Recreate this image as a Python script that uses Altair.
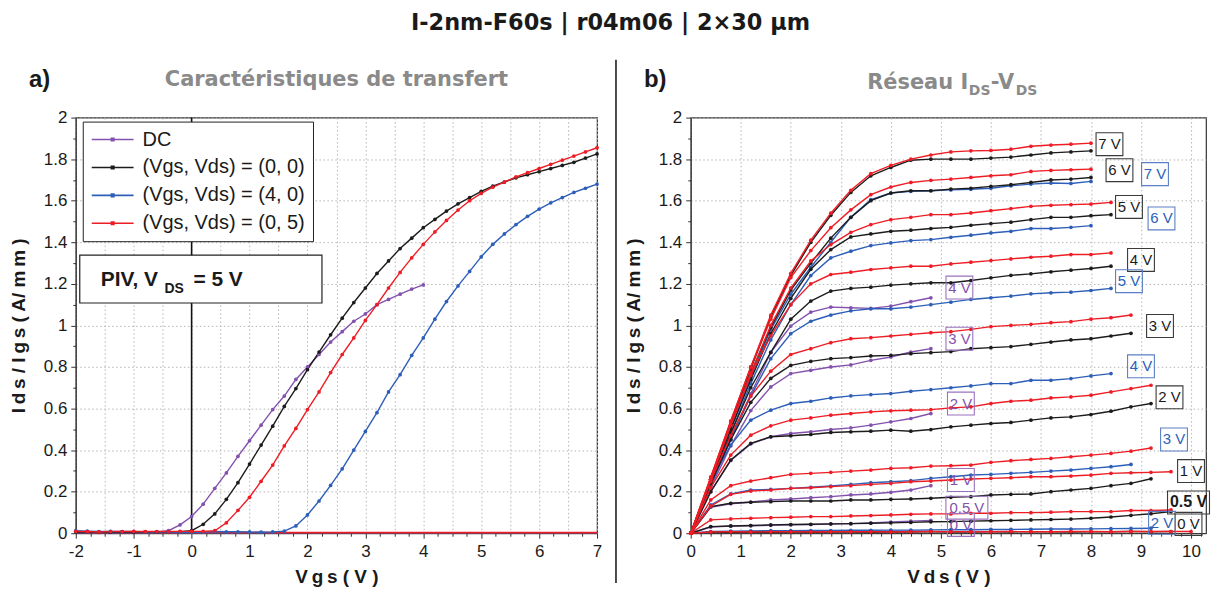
import altair as alt
import pandas as pd

# ------------------------------------------------------------------
# Panel a) transfer characteristics  (Ids vs Vgs)
# ------------------------------------------------------------------
VGS = [-2.0, -1.8, -1.6, -1.4, -1.2, -1.0, -0.8, -0.6, -0.4, -0.2,
       0.0, 0.2, 0.4, 0.6, 0.8, 1.0, 1.2, 1.4, 1.6, 1.8,
       2.0, 2.2, 2.4, 2.6, 2.8, 3.0, 3.2, 3.4, 3.6, 3.8,
       4.0, 4.2, 4.4, 4.6, 4.8, 5.0, 5.2, 5.4, 5.6, 5.8,
       6.0, 6.2, 6.4, 6.6, 6.8, 7.0]

IDS_DC = [0.006, 0.005, 0.004, 0.004, 0.005, 0.005, 0.005, 0.006, 0.012, 0.04,
          0.08, 0.14, 0.216, 0.29, 0.37, 0.445, 0.52, 0.595, 0.66, 0.74,
          0.80, 0.86, 0.92, 0.97, 1.02, 1.055, 1.10, 1.125, 1.15, 1.175,
          1.195]

IDS_Q00 = [0.006, 0.007, 0.005, 0.005, 0.006, 0.005, 0.006, 0.005, 0.006, 0.007,
           0.012, 0.043, 0.093, 0.163, 0.243, 0.333, 0.424, 0.515, 0.61, 0.696,
           0.787, 0.872, 0.955, 1.035, 1.11, 1.18, 1.25, 1.31, 1.37, 1.42,
           1.47, 1.51, 1.55, 1.585, 1.615, 1.645, 1.67, 1.69, 1.71, 1.725,
           1.74, 1.755, 1.77, 1.785, 1.805, 1.825]

IDS_Q40 = [0.012, 0.01, 0.008, 0.009, 0.008, 0.008, 0.006, 0.007, 0.006, 0.005,
           0.006, 0.005, 0.008, 0.007, 0.007, 0.006, 0.005, 0.006, 0.01, 0.035,
           0.088, 0.155, 0.23, 0.31, 0.40, 0.49, 0.58, 0.68, 0.763, 0.856,
           0.94, 1.03, 1.115, 1.19, 1.26, 1.33, 1.39, 1.44, 1.485, 1.525,
           1.56, 1.59, 1.615, 1.64, 1.66, 1.68]

IDS_Q05 = [0.009, 0.008, 0.006, 0.008, 0.008, 0.009, 0.008, 0.008, 0.008, 0.009,
           0.009, 0.009, 0.012, 0.05, 0.11, 0.173, 0.25, 0.328, 0.42, 0.504,
           0.595, 0.68, 0.773, 0.86, 0.94, 1.024, 1.10, 1.18, 1.255, 1.325,
           1.39, 1.45, 1.505, 1.555, 1.60, 1.635, 1.665, 1.69, 1.715, 1.735,
           1.755, 1.775, 1.795, 1.815, 1.835, 1.855]

IGS_Q05 = [0.004, 0.004, 0.003, 0.004, 0.004, 0.003, 0.004, 0.004, 0.003, 0.004,
           0.004, 0.003, 0.004, 0.004, 0.003, 0.003, 0.004, 0.003, 0.003, 0.003,
           0.003, 0.003, 0.003, 0.003, 0.003, 0.003, 0.003, 0.003, 0.003, 0.003,
           0.003, 0.003, 0.003, 0.003, 0.003, 0.003, 0.003, 0.003, 0.003, 0.003,
           0.003, 0.003, 0.003, 0.003, 0.003, 0.003]

IGS_Q40 = [0.002, 0.002, 0.002, 0.002, 0.002, 0.002, 0.002, 0.002, 0.002, 0.002,
           0.002, 0.002, 0.002, 0.002, 0.002, 0.002, 0.002, 0.002, 0.002, 0.002,
           0.002, 0.002, 0.002, 0.002, 0.002, 0.002, 0.002, 0.002, 0.002, 0.002,
           0.002, 0.002, 0.002, 0.002, 0.002, 0.002, 0.002, 0.002, 0.002, 0.002,
           0.002, 0.002, 0.002, 0.002, 0.002, 0.002]

SERIES_A = ["DC", "(Vgs, Vds) = (0, 0)", "(Vgs, Vds) = (4, 0)", "(Vgs, Vds) = (0, 5)"]
COLORS_A = ["#8352ad", "#1c1c1c", "#2d5fb8", "#ee1d25"]

# ------------------------------------------------------------------
# Panel b) output network  (Ids vs Vds)
# ------------------------------------------------------------------
VDS = [0.0, 0.4, 0.8, 1.2, 1.6, 2.0, 2.4, 2.8, 3.2, 3.6, 4.0, 4.4, 4.8,
       5.2, 5.6, 6.0, 6.4, 6.8, 7.2, 7.6, 8.0, 8.4, 8.8, 9.2, 9.6, 10.0]

BLACK_Q00 = {
    "7 V": [0, 0.26, 0.53, 0.79, 1.04, 1.24, 1.40, 1.53, 1.64, 1.72, 1.76, 1.795, 1.80,
            1.80, 1.80, 1.805, 1.81, 1.82, 1.83, 1.835, 1.84],
    "6 V": [0, 0.26, 0.52, 0.77, 0.99, 1.17, 1.30, 1.42, 1.52, 1.60, 1.637, 1.648, 1.648,
            1.656, 1.66, 1.669, 1.677, 1.688, 1.70, 1.704, 1.712],
    "5 V": [0, 0.25, 0.50, 0.74, 0.96, 1.13, 1.27, 1.365, 1.426, 1.44, 1.453, 1.458, 1.466,
            1.472, 1.482, 1.49, 1.497, 1.509, 1.52, 1.52, 1.528, 1.533],
    "4 V": [0, 0.24, 0.48, 0.70, 0.87, 1.03, 1.117, 1.165, 1.178, 1.184, 1.194, 1.20, 1.205,
            1.205, 1.216, 1.229, 1.241, 1.248, 1.258, 1.266, 1.274, 1.285],
    "3 V": [0, 0.24, 0.45, 0.63, 0.745, 0.808, 0.827, 0.84, 0.845, 0.853, 0.856, 0.864, 0.869,
            0.874, 0.888, 0.893, 0.898, 0.909, 0.92, 0.93, 0.936, 0.949, 0.962],
    "2 V": [0, 0.20, 0.352, 0.432, 0.464, 0.469, 0.475, 0.485, 0.488, 0.491, 0.496, 0.491, 0.499,
            0.512, 0.52, 0.528, 0.533, 0.544, 0.555, 0.56, 0.571, 0.587, 0.608, 0.624],
    "1 V": [0, 0.128, 0.144, 0.149, 0.152, 0.155, 0.155, 0.155, 0.16, 0.16, 0.163, 0.165, 0.168,
            0.173, 0.176, 0.184, 0.187, 0.189, 0.20, 0.208, 0.216, 0.229, 0.24, 0.262],
    "0.5 V": [0, 0.032, 0.035, 0.037, 0.04, 0.042, 0.043, 0.045, 0.046, 0.048, 0.05, 0.052, 0.055,
              0.056, 0.058, 0.06, 0.062, 0.064, 0.066, 0.068, 0.072, 0.078, 0.086, 0.094, 0.104],
    "0 V": [0, 0.004, 0.005, 0.005, 0.005, 0.006, 0.005, 0.006, 0.006, 0.005, 0.006, 0.006, 0.007,
            0.006, 0.006, 0.007, 0.006, 0.007, 0.007, 0.006, 0.007, 0.007, 0.008, 0.007, 0.008],
}

RED_Q05 = {
    "7 V": [0, 0.27, 0.54, 0.80, 1.05, 1.25, 1.41, 1.54, 1.65, 1.73, 1.77, 1.80, 1.82,
            1.835, 1.84, 1.842, 1.848, 1.862, 1.868, 1.872, 1.877],
    "6 V": [0, 0.27, 0.54, 0.80, 1.03, 1.23, 1.36, 1.47, 1.556, 1.629, 1.666, 1.688, 1.698,
            1.704, 1.712, 1.72, 1.725, 1.741, 1.746, 1.749, 1.752],
    "5 V": [0, 0.26, 0.52, 0.77, 1.0, 1.18, 1.31, 1.389, 1.448, 1.485, 1.509, 1.52, 1.533,
            1.533, 1.541, 1.552, 1.562, 1.573, 1.578, 1.581, 1.584, 1.592],
    "4 V": [0, 0.26, 0.52, 0.76, 0.95, 1.10, 1.20, 1.245, 1.256, 1.269, 1.277, 1.285, 1.285,
            1.296, 1.304, 1.312, 1.32, 1.328, 1.333, 1.341, 1.341, 1.349],
    "3 V": [0, 0.25, 0.47, 0.66, 0.78, 0.86, 0.888, 0.917, 0.936, 0.941, 0.949, 0.957, 0.965,
            0.97, 0.981, 0.994, 1.0, 1.005, 1.013, 1.018, 1.03, 1.037, 1.05],
    "2 V": [0, 0.22, 0.376, 0.472, 0.517, 0.544, 0.555, 0.568, 0.576, 0.584, 0.589, 0.592, 0.595,
            0.603, 0.608, 0.624, 0.635, 0.64, 0.651, 0.656, 0.664, 0.68, 0.696, 0.712],
    "1.5 V": [0, 0.16, 0.229, 0.251, 0.267, 0.283, 0.288, 0.293, 0.299, 0.304, 0.312, 0.315, 0.323,
              0.325, 0.328, 0.341, 0.349, 0.355, 0.36, 0.368, 0.376, 0.384, 0.395, 0.41],
    "1 V": [0, 0.13, 0.187, 0.203, 0.208, 0.216, 0.219, 0.224, 0.229, 0.235, 0.24, 0.248, 0.251,
            0.256, 0.261, 0.264, 0.267, 0.272, 0.272, 0.275, 0.28, 0.288, 0.291, 0.293, 0.296],
    "0.5 V": [0, 0.064, 0.069, 0.072, 0.075, 0.077, 0.08, 0.08, 0.083, 0.085, 0.088, 0.091, 0.093,
              0.093, 0.096, 0.096, 0.099, 0.099, 0.101, 0.104, 0.104, 0.104, 0.109, 0.109, 0.112],
    "0 V": [0, 0.006, 0.007, 0.006, 0.007, 0.007, 0.006, 0.007, 0.007, 0.007, 0.006, 0.007, 0.008,
            0.007, 0.007, 0.007, 0.008, 0.007, 0.007, 0.008, 0.008, 0.007, 0.008, 0.008, 0.008, 0.008],
}

BLUE_Q40 = {
    "7 V": [0, 0.24, 0.50, 0.75, 0.98, 1.15, 1.28, 1.40, 1.52, 1.605, 1.637, 1.645, 1.648,
            1.652, 1.655, 1.66, 1.672, 1.68, 1.685, 1.683, 1.693],
    "6 V": [0, 0.24, 0.48, 0.72, 0.93, 1.10, 1.24, 1.325, 1.357, 1.384, 1.397, 1.408, 1.413,
            1.424, 1.434, 1.445, 1.453, 1.466, 1.466, 1.472, 1.48],
    "5 V": [0, 0.23, 0.45, 0.66, 0.84, 0.96, 1.02, 1.05, 1.07, 1.08, 1.08, 1.088, 1.10,
            1.112, 1.125, 1.133, 1.141, 1.152, 1.157, 1.16, 1.168, 1.178],
    "4 V": [0, 0.25, 0.424, 0.544, 0.592, 0.624, 0.635, 0.651, 0.661, 0.667, 0.672, 0.683, 0.691,
            0.70, 0.709, 0.72, 0.72, 0.736, 0.736, 0.744, 0.757, 0.768],
    "3 V": [0, 0.136, 0.189, 0.208, 0.211, 0.216, 0.221, 0.227, 0.235, 0.243, 0.248, 0.253, 0.264,
            0.272, 0.28, 0.283, 0.288, 0.293, 0.299, 0.304, 0.312, 0.32, 0.331],
    "2 V": [0, 0.008, 0.01, 0.011, 0.012, 0.012, 0.013, 0.013, 0.014, 0.014, 0.015, 0.015, 0.016,
            0.017, 0.017, 0.018, 0.018, 0.019, 0.02, 0.02, 0.021, 0.022, 0.023, 0.024],
}

PURPLE_DC = {
    "4 V": [0, 0.23, 0.46, 0.67, 0.87, 0.997, 1.064, 1.088, 1.085, 1.082, 1.093, 1.114, 1.133],
    "3 V": [0, 0.22, 0.42, 0.59, 0.704, 0.768, 0.784, 0.80, 0.81, 0.832, 0.848, 0.872, 0.888],
    "2 V": [0, 0.20, 0.35, 0.43, 0.464, 0.48, 0.488, 0.499, 0.507, 0.52, 0.536, 0.552, 0.576],
    "1 V": [0, 0.125, 0.142, 0.15, 0.16, 0.165, 0.171, 0.176, 0.184, 0.189, 0.197, 0.208, 0.229],
    "0.5 V": [0, 0.03, 0.034, 0.036, 0.038, 0.04, 0.042, 0.044, 0.046, 0.05, 0.054, 0.058, 0.062],
    "0 V": [0, 0.005, 0.006, 0.006, 0.007, 0.007, 0.008, 0.008, 0.008, 0.009, 0.009, 0.01, 0.01],
}

# curve-end labels of panel b
LBL_TEXT = ["7 V", "6 V", "5 V", "4 V", "3 V", "2 V", "1 V", "0.5 V", "0 V",
            "7 V", "6 V", "5 V", "4 V", "3 V", "2 V",
            "4 V", "3 V", "2 V", "1 V", "0.5 V", "0 V"]
LBL_GROUP = ["black", "black", "black", "black", "black", "black", "black", "black", "black",
             "blue", "blue", "blue", "blue", "blue", "blue",
             "purple", "purple", "purple", "purple", "purple", "purple"]
LBL_X = [8.37, 8.57, 8.76, 9.0, 9.38, 9.57, 10.0, 9.95, 9.95,
         9.28, 9.41, 8.76, 9.0, 9.66, 9.42,
         5.37, 5.37, 5.4, 5.4, 5.52, 5.4]
LBL_Y = [1.872, 1.747, 1.57, 1.315, 0.997, 0.654, 0.299, 0.148, 0.045,
         1.728, 1.515, 1.213, 0.803, 0.451, 0.05,
         1.182, 0.936, 0.624, 0.256, 0.123, 0.04]

# tick positions
XA_TICKS = [-2.0, -1.75, -1.5, -1.25, -1.0, -0.75, -0.5, -0.25, 0.0, 0.25, 0.5, 0.75,
            1.0, 1.25, 1.5, 1.75, 2.0, 2.25, 2.5, 2.75, 3.0, 3.25, 3.5, 3.75,
            4.0, 4.25, 4.5, 4.75, 5.0, 5.25, 5.5, 5.75, 6.0, 6.25, 6.5, 6.75, 7.0]
XB_TICKS = [0.0, 0.2, 0.4, 0.6, 0.8, 1.0, 1.2, 1.4, 1.6, 1.8, 2.0, 2.2, 2.4, 2.6, 2.8,
            3.0, 3.2, 3.4, 3.6, 3.8, 4.0, 4.2, 4.4, 4.6, 4.8, 5.0, 5.2, 5.4, 5.6, 5.8,
            6.0, 6.2, 6.4, 6.6, 6.8, 7.0, 7.2, 7.4, 7.6, 7.8, 8.0, 8.2, 8.4, 8.6, 8.8,
            9.0, 9.2, 9.4, 9.6, 9.8, 10.0, 10.2]
Y_TICKS = [0.0, 0.1, 0.2, 0.3, 0.4, 0.5, 0.6, 0.7, 0.8, 0.9, 1.0,
           1.1, 1.2, 1.3, 1.4, 1.5, 1.6, 1.7, 1.8, 1.9, 2.0]

# ------------------------------------------------------------------
W_A, W_B, H = 523, 517, 417
TXT = "#1a1a1a"
GRAY = "#8a8a8a"

ax_a = alt.Axis(values=XA_TICKS, title="V\u2009g\u2009s ( V )",
                labelExpr="datum.value % 1 == 0 ? toString(datum.value) : ''",
                gridOpacity={"condition": {"test": "datum.value % 0.5 == 0", "value": 1}, "value": 0},
                tickSize={"condition": {"test": "datum.value % 1 == 0", "value": 5}, "value": 3},
                labelOverlap=False, labelFlush=False, titlePadding=8, labelPadding=5)
ax_b = alt.Axis(values=XB_TICKS, title="V\u2009d\u2009s ( V )",
                labelExpr="abs(datum.value - round(datum.value)) < 0.001 ? toString(round(datum.value)) : ''",
                gridOpacity={"condition": {"test": "abs(datum.value - round(datum.value)) < 0.001", "value": 1}, "value": 0},
                tickSize={"condition": {"test": "abs(datum.value - round(datum.value)) < 0.001", "value": 5}, "value": 3},
                labelOverlap=False, labelFlush=False, titlePadding=8, labelPadding=5)
ax_y = alt.Axis(values=Y_TICKS, title="I\u2009d\u2009s  /  I\u2009g\u2009s  ( A/ m\u2009m )",
                labelExpr="round(datum.value*10) % 2 == 0 ? toString(round(datum.value*10)/10) : ''",
                gridOpacity={"condition": {"test": "round(datum.value*10) % 2 == 0", "value": 1}, "value": 0},
                tickSize={"condition": {"test": "round(datum.value*10) % 2 == 0", "value": 5}, "value": 3},
                labelOverlap=False, labelFlush=False, titlePadding=15, labelPadding=4)

XA = alt.X("vgs:Q", scale=alt.Scale(domain=[-2, 7], nice=False, zero=False), axis=ax_a)
XB = alt.X("vds:Q", scale=alt.Scale(domain=[0, 10.3], nice=False, zero=False), axis=ax_b)
YA = alt.Y("ids:Q", scale=alt.Scale(domain=[0, 2], nice=False), axis=ax_y)


def one(text):
    return pd.DataFrame({"t": [text]})


def label_mark(text, x, y, size, color, font="Liberation Sans", align="left", baseline="alphabetic"):
    return alt.Chart(one(text)).mark_text(
        font=font, fontSize=size, fontWeight="bold", align=align, baseline=baseline, color=color
    ).encode(x=alt.value(x), y=alt.value(y), text="t:N")


# ---------------- panel a ----------------
rows = []
for name, vals in zip(SERIES_A, [IDS_DC, IDS_Q00, IDS_Q40, IDS_Q05]):
    for x, y in zip(VGS, vals):
        rows.append({"vgs": x, "ids": y, "series": name})
df_a = pd.DataFrame(rows)

rows = []
for src, vals in zip(["blue", "red"], [IGS_Q40, IGS_Q05]):
    for x, y in zip(VGS, vals):
        rows.append({"vgs": x, "ids": y, "src": src})
df_igs = pd.DataFrame(rows)

legend_a = alt.Legend(title=None, orient="none", legendX=7, legendY=4, direction="vertical",
                      fillColor="white", strokeColor="#222", padding=8,
                      labelFont="Liberation Sans", labelFontSize=20, labelColor=TXT, labelLimit=400,
                      symbolType="M-2.5,0H2.5M-0.15,-0.15H0.15V0.15H-0.15Z", symbolSize=282,
                      symbolStrokeWidth=1.6, rowPadding=8, labelOffset=20, symbolOffset=12)
color_a = alt.Color("series:N", scale=alt.Scale(domain=SERIES_A, range=COLORS_A), legend=legend_a)

zero_rule = alt.Chart(pd.DataFrame({"vgs": [0.0]})).mark_rule(color="#111", strokeWidth=1.6).encode(x=XA)

igs_lines = alt.Chart(df_igs).mark_line(strokeWidth=1.6).encode(
    x=XA, y=YA, detail="src:N",
    stroke=alt.Stroke("src:N", scale=alt.Scale(domain=["blue", "red"], range=["#2d5fb8", "#ee1d25"]), legend=None))

lines_a = alt.Chart(df_a).mark_line(strokeWidth=1.4).encode(x=XA, y=YA, color=color_a)
dots_a = alt.Chart(df_a).mark_circle(size=14, opacity=1).encode(x=XA, y=YA, color=color_a)

piv_box = alt.Chart(one("box")).mark_rect(fill="white", stroke="#222", strokeWidth=1.2).encode(
    x=alt.value(4), x2=alt.value(247), y=alt.value(138), y2=alt.value(186))
piv_main = label_mark("PIV, V", 25, 169, 21, TXT)
piv_sub = label_mark("DS", 89, 176, 14, TXT)
piv_end = label_mark("= 5 V", 118, 169, 21, TXT)

tag_a = label_mark("a)", -47, -38, 24, TXT, baseline="middle")
title_a = label_mark("Caractéristiques de transfert", W_A / 2, -38, 21, GRAY,
                     font="DejaVu Sans", align="center", baseline="middle")

divider = alt.Chart(one("div")).mark_rule(color="#111", strokeWidth=1.5).encode(
    x=alt.value(W_A + 19), y=alt.value(-58), y2=alt.value(H + 50))

panel_a = alt.layer(
    zero_rule, igs_lines, lines_a, dots_a, piv_box, piv_main, piv_sub, piv_end, tag_a, title_a, divider
).properties(width=W_A, height=H)

# ---------------- panel b ----------------
def curves_df(d):
    out = []
    for key, vals in d.items():
        for x, y in zip(VDS, vals):
            out.append({"vds": x, "ids": y, "curve": key})
    return pd.DataFrame(out)

layers_b = []
for d, col in [(PURPLE_DC, "#8352ad"), (BLUE_Q40, "#2d5fb8"), (BLACK_Q00, "#1c1c1c"), (RED_Q05, "#ee1d25")]:
    dfc = curves_df(d)
    layers_b.append(alt.Chart(dfc).mark_line(color=col, strokeWidth=1.4).encode(x=XB, y=YA, detail="curve:N"))
    layers_b.append(alt.Chart(dfc).mark_circle(color=col, size=14, opacity=1).encode(x=XB, y=YA))

df_lbl = pd.DataFrame({"text": LBL_TEXT, "group": LBL_GROUP, "vds": LBL_X, "ids": LBL_Y})
df_lbl["wide"] = df_lbl["text"].str.len() > 3
df_lbl["bold"] = (df_lbl["text"] == "0.5 V") & (df_lbl["group"] == "black")

stroke_sc = alt.Scale(domain=["black", "blue", "purple"], range=["#3a3a3a", "#5a7fc6", "#9a72bd"])
text_sc = alt.Scale(domain=["black", "blue", "purple"], range=["#1a1a1a", "#2d5fb8", "#8352ad"])

box_n = alt.Chart(df_lbl).transform_filter("!datum.wide").mark_point(
    shape="M-1.17,-1H1.17V1H-1.17Z", size=529, filled=False, strokeWidth=1.1, opacity=1
).encode(x=XB, y=YA, stroke=alt.Stroke("group:N", scale=stroke_sc, legend=None))
box_w = alt.Chart(df_lbl).transform_filter("datum.wide").mark_point(
    shape="M-1.83,-1H1.83V1H-1.83Z", size=529, filled=False, strokeWidth=1.1, opacity=1
).encode(x=XB, y=YA, stroke=alt.Stroke("group:N", scale=stroke_sc, legend=None))
lbl_txt = alt.Chart(df_lbl).transform_filter("!datum.bold").mark_text(
    font="Liberation Sans", fontSize=15, align="center", baseline="middle"
).encode(x=XB, y=YA, text="text:N", color=alt.Color("group:N", scale=text_sc, legend=None))
lbl_bold = alt.Chart(df_lbl).transform_filter("datum.bold").mark_text(
    font="Liberation Sans", fontSize=16, fontWeight="bold", align="center", baseline="middle"
).encode(x=XB, y=YA, text="text:N", color=alt.Color("group:N", scale=text_sc, legend=None))

tag_b = label_mark("b)", -47, -38, 24, TXT, baseline="middle")
tb1 = label_mark("Réseau I", 177, -29, 21, GRAY, font="DejaVu Sans")
tb2 = label_mark("DS", 279, -23, 14, GRAY, font="DejaVu Sans")
tb3 = label_mark("-V", 301, -29, 21, GRAY, font="DejaVu Sans")
tb4 = label_mark("DS", 326, -23, 14, GRAY, font="DejaVu Sans")

# invisible spacer so both panels share the same top extent
spacer_b = alt.Chart(one("sp")).mark_rule(color="transparent", strokeWidth=1).encode(
    x=alt.value(0), y=alt.value(-58), y2=alt.value(0))

panel_b = alt.layer(
    *layers_b, box_n, box_w, lbl_txt, lbl_bold, tag_b, tb1, tb2, tb3, tb4, spacer_b
).properties(width=W_B, height=H)

chart = alt.hconcat(panel_a, panel_b, spacing=5).resolve_scale(
    color="independent", stroke="independent"
).properties(
    title=alt.TitleParams("I-2nm-F60s | r04m06 | 2×30 µm", font="DejaVu Sans", fontSize=22.5,
                          fontWeight="bold", color=TXT, anchor="middle", offset=24),
    padding={"top": 3, "left": 0, "right": 0, "bottom": 0},
).configure_view(
    stroke="#333", strokeWidth=1.2
).configure_axis(
    domainColor="#333", tickColor="#333", gridColor="#b5b5b5", gridDash=[1.5, 2.5], gridWidth=1,
    labelFont="Liberation Sans", labelFontSize=17, labelColor=TXT,
    titleFont="Liberation Sans", titleFontSize=19, titleFontWeight="bold", titleColor=TXT,
)

chart.save("out.html", embed_options={"renderer": "svg", "actions": False})
